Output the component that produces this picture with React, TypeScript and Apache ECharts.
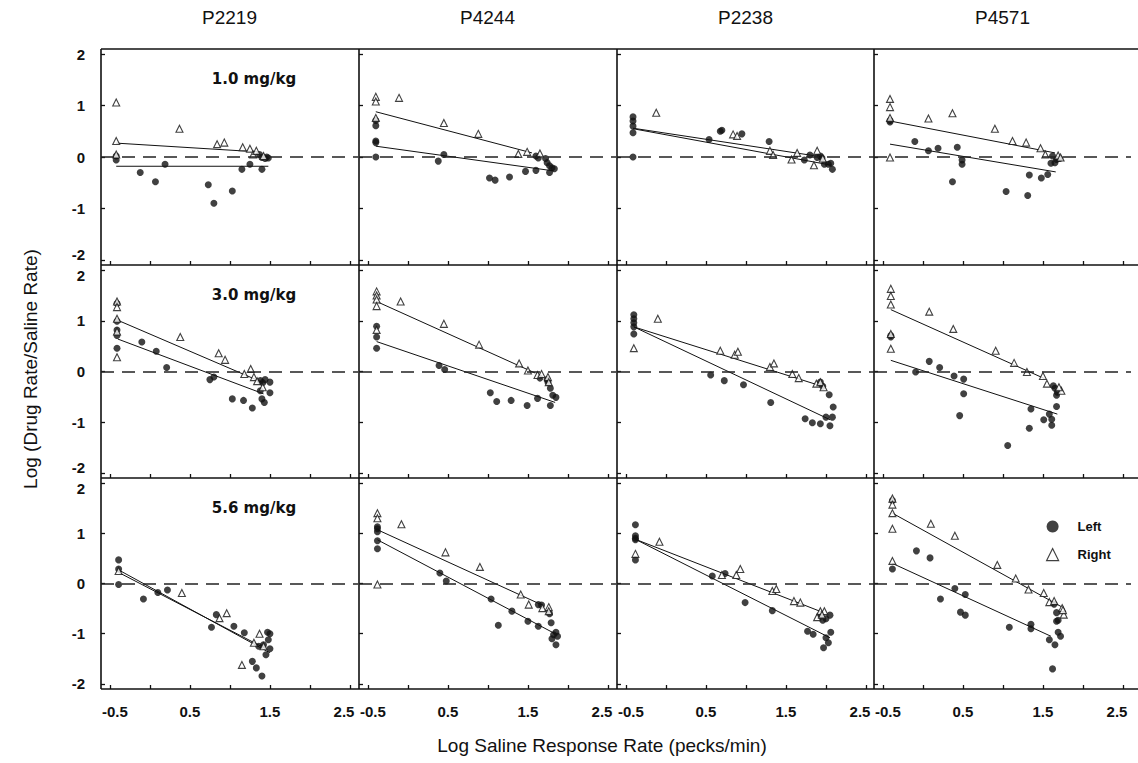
import React, { useEffect, useRef } from 'react';
import * as echarts from 'echarts';

type Pt = [number, number];

const subjects = ['P2219', 'P4244', 'P2238', 'P4571'];
const doses = ['1.0 mg/kg', '3.0 mg/kg', '5.6 mg/kg'];
const xTickValues = [-0.5, 0, 0.5, 1, 1.5, 2, 2.5];
const xLabelValues = [-0.5, 0.5, 1.5, 2.5];
const yTickValues = [-2, -1, 0, 1, 2];

// ---- 1.0 mg/kg ----
const P2219_10_left: Pt[] = [[-0.42,0.02],[-0.42,-0.06],[-0.12,-0.30],[0.07,-0.48],[0.19,-0.14],[0.73,-0.54],[0.80,-0.90],[1.03,-0.66],[1.15,-0.24],[1.25,-0.14],[1.37,0.05],[1.40,-0.24],[1.40,-0.01],[1.44,-0.03],[1.48,-0.02],[1.46,0.0]];
const P2219_10_right: Pt[] = [[-0.42,1.06],[-0.42,0.31],[-0.42,0.05],[0.37,0.55],[0.84,0.25],[0.93,0.28],[1.16,0.19],[1.25,0.16],[1.29,0.05],[1.33,0.12],[1.42,0.02]];
const P2219_10_leftFit: Pt[] = [[-0.42,-0.18],[1.48,-0.18]];
const P2219_10_rightFit: Pt[] = [[-0.42,0.27],[1.35,0.10]];

const P4244_10_left: Pt[] = [[-0.40,0.71],[-0.40,0.61],[-0.40,0.31],[-0.40,0.28],[-0.40,0.0],[0.38,-0.08],[0.45,0.05],[1.02,-0.41],[1.09,-0.45],[1.27,-0.39],[1.47,-0.28],[1.60,0.02],[1.63,-0.02],[1.60,-0.26],[1.72,-0.03],[1.74,-0.11],[1.77,-0.17],[1.80,-0.21],[1.83,-0.23],[1.77,-0.30]];
const P4244_10_right: Pt[] = [[-0.40,1.17],[-0.40,1.08],[-0.11,1.15],[-0.40,0.76],[0.45,0.66],[0.88,0.45],[1.38,0.06],[1.49,0.10],[1.65,0.07]];
const P4244_10_leftFit: Pt[] = [[-0.40,0.21],[1.82,-0.27]];
const P4244_10_rightFit: Pt[] = [[-0.40,0.88],[1.55,0.08]];

const P2238_10_left: Pt[] = [[-0.41,0.78],[-0.41,0.70],[-0.41,0.60],[-0.41,0.47],[-0.41,0.0],[0.54,0.34],[0.68,0.50],[0.70,0.52],[0.95,0.45],[1.29,0.30],[1.73,-0.06],[1.80,0.04],[1.89,-0.01],[1.93,0.02],[1.95,-0.02],[1.98,-0.14],[2.03,-0.14],[2.06,-0.12],[2.08,-0.24]];
const P2238_10_right: Pt[] = [[-0.12,0.86],[0.84,0.44],[0.89,0.41],[1.30,0.12],[1.34,0.04],[1.57,-0.05],[1.64,0.08],[1.85,-0.16],[1.89,0.12],[1.96,-0.03]];
const P2238_10_leftFit: Pt[] = [[-0.41,0.55],[2.07,-0.16]];
const P2238_10_rightFit: Pt[] = [[-0.41,0.56],[1.96,0.0]];

const P4571_10_left: Pt[] = [[-0.41,0.71],[-0.41,0.68],[-0.10,0.30],[0.07,0.12],[0.19,0.17],[0.43,0.19],[0.49,-0.06],[0.49,-0.14],[0.37,-0.48],[1.04,-0.67],[1.31,-0.75],[1.33,-0.35],[1.48,-0.41],[1.56,-0.34],[1.60,-0.12],[1.62,0.02],[1.65,-0.11],[1.67,-0.05],[1.71,-0.03]];
const P4571_10_right: Pt[] = [[-0.41,1.13],[-0.41,0.97],[-0.41,0.76],[-0.41,-0.01],[0.07,0.75],[0.37,0.85],[0.90,0.55],[1.12,0.31],[1.29,0.28],[1.47,0.17],[1.53,0.05],[1.69,0.03],[1.72,-0.01]];
const P4571_10_leftFit: Pt[] = [[-0.41,0.25],[1.66,-0.29]];
const P4571_10_rightFit: Pt[] = [[-0.41,0.70],[1.65,0.08]];

// ---- 3.0 mg/kg ----
const P2219_30_left: Pt[] = [[-0.41,1.34],[-0.41,0.99],[-0.41,0.82],[-0.41,0.71],[-0.41,0.46],[-0.10,0.58],[0.08,0.40],[0.21,0.08],[0.75,-0.16],[0.80,-0.11],[1.03,-0.54],[1.17,-0.57],[1.28,-0.72],[1.38,-0.18],[1.41,-0.22],[1.44,-0.16],[1.50,-0.21],[1.50,-0.42],[1.40,-0.54],[1.43,-0.61],[1.38,-0.38]];
const P2219_30_right: Pt[] = [[-0.41,1.38],[-0.41,1.27],[-0.41,1.04],[-0.41,0.79],[-0.41,0.28],[0.38,0.68],[0.86,0.36],[0.94,0.23],[1.26,0.05],[1.18,-0.05],[1.30,-0.11],[1.34,-0.19],[1.41,-0.31]];
const P2219_30_leftFit: Pt[] = [[-0.40,0.64],[1.42,-0.44]];
const P2219_30_rightFit: Pt[] = [[-0.40,1.01],[1.40,-0.21]];

const P4244_30_left: Pt[] = [[-0.39,0.89],[-0.39,0.68],[-0.39,0.46],[0.39,0.12],[0.46,0.04],[1.03,-0.42],[1.11,-0.59],[1.29,-0.57],[1.49,-0.67],[1.62,-0.53],[1.65,-0.13],[1.74,-0.16],[1.75,-0.21],[1.78,-0.33],[1.81,-0.47],[1.85,-0.51],[1.78,-0.67]];
const P4244_30_right: Pt[] = [[-0.39,1.58],[-0.39,1.50],[-0.39,1.42],[-0.39,1.29],[-0.39,0.82],[-0.09,1.38],[0.45,0.94],[0.89,0.53],[1.39,0.16],[1.50,0.02],[1.62,-0.07],[1.67,-0.05],[1.75,-0.11],[1.76,-0.21]];
const P4244_30_leftFit: Pt[] = [[-0.39,0.59],[1.84,-0.61]];
const P4244_30_rightFit: Pt[] = [[-0.39,1.38],[1.59,-0.03]];

const P2238_30_left: Pt[] = [[-0.40,1.12],[-0.40,1.04],[-0.40,0.96],[-0.40,0.88],[-0.40,0.74],[0.56,-0.07],[0.73,-0.18],[0.97,-0.26],[1.31,-0.61],[1.74,-0.93],[1.83,-1.01],[1.93,-1.03],[2.05,-1.07],[2.00,-0.90],[2.08,-0.90],[2.09,-0.70],[2.04,-0.46],[1.93,-0.21],[1.96,-0.29]];
const P2238_30_right: Pt[] = [[-0.40,0.46],[-0.10,1.04],[0.68,0.41],[0.86,0.33],[0.90,0.39],[1.30,0.09],[1.35,0.16],[1.58,-0.05],[1.66,-0.13],[1.88,-0.24],[1.93,-0.21],[1.97,-0.31]];
const P2238_30_leftFit: Pt[] = [[-0.40,0.88],[2.05,-0.95]];
const P2238_30_rightFit: Pt[] = [[-0.40,0.88],[1.99,-0.31]];

const P4571_30_left: Pt[] = [[-0.40,0.71],[-0.40,0.68],[-0.09,-0.01],[0.08,0.20],[0.21,0.08],[0.39,-0.09],[0.51,-0.15],[0.51,-0.44],[0.46,-0.87],[1.06,-1.46],[1.35,-0.74],[1.33,-1.12],[1.51,-0.95],[1.58,-0.84],[1.61,-0.94],[1.61,-1.06],[1.67,-0.69],[1.63,-0.28],[1.65,-0.33],[1.68,-0.41],[1.67,-0.47]];
const P4571_30_right: Pt[] = [[-0.40,1.63],[-0.40,1.49],[-0.40,1.32],[-0.40,0.74],[-0.40,0.45],[0.08,1.18],[0.38,0.84],[0.91,0.41],[1.14,0.17],[1.30,-0.01],[1.50,-0.09],[1.55,-0.24],[1.73,-0.38],[1.70,-0.31]];
const P4571_30_leftFit: Pt[] = [[-0.40,0.22],[1.68,-0.84]];
const P4571_30_rightFit: Pt[] = [[-0.40,1.22],[1.52,-0.14]];

// ---- 5.6 mg/kg ----
const P2219_56_left: Pt[] = [[-0.39,0.47],[-0.39,0.29],[-0.39,-0.02],[-0.08,-0.31],[0.10,-0.18],[0.22,-0.13],[0.83,-0.62],[0.77,-0.87],[1.05,-0.85],[1.18,-0.98],[1.47,-0.97],[1.50,-1.0],[1.28,-1.55],[1.33,-1.68],[1.40,-1.84],[1.42,-1.22],[1.48,-1.12],[1.50,-1.30],[1.45,-1.42],[1.36,-1.25]];
const P2219_56_right: Pt[] = [[-0.39,0.25],[0.40,-0.19],[0.87,-0.69],[0.96,-0.59],[1.37,-1.00],[1.15,-1.62],[1.30,-1.18],[1.42,-1.25]];
const P2219_56_leftFit: Pt[] = [[-0.39,0.27],[1.50,-1.38]];
const P2219_56_rightFit: Pt[] = [[-0.39,0.22],[1.45,-1.30]];

const P4244_56_left: Pt[] = [[-0.38,1.13],[-0.38,1.09],[-0.38,1.03],[-0.38,0.85],[-0.38,0.69],[0.40,0.21],[0.48,0.05],[1.04,-0.31],[1.30,-0.55],[1.50,-0.75],[1.13,-0.83],[1.63,-0.85],[1.63,-0.42],[1.67,-0.43],[1.77,-0.60],[1.79,-0.78],[1.85,-0.97],[1.82,-1.02],[1.87,-1.05],[1.85,-1.22],[1.80,-1.10]];
const P4244_56_right: Pt[] = [[-0.38,1.40],[-0.38,1.30],[-0.08,1.18],[-0.38,-0.02],[0.47,0.62],[0.90,0.33],[1.41,-0.22],[1.51,-0.42],[1.68,-0.49],[1.76,-0.47],[1.76,-0.55]];
const P4244_56_leftFit: Pt[] = [[-0.38,0.87],[1.84,-1.00]];
const P4244_56_rightFit: Pt[] = [[-0.38,1.07],[1.68,-0.43]];

const P2238_56_left: Pt[] = [[-0.38,1.17],[-0.38,0.95],[-0.38,0.90],[-0.38,0.87],[-0.38,0.47],[0.58,0.15],[0.74,0.20],[0.99,-0.38],[1.33,-0.54],[1.77,-0.95],[1.84,-1.01],[2.06,-0.97],[2.05,-0.63],[1.93,-0.65],[1.96,-0.73],[2.00,-0.70],[2.00,-1.08],[2.03,-1.18],[1.97,-1.28]];
const P2238_56_right: Pt[] = [[-0.38,0.59],[-0.08,0.83],[0.70,0.17],[0.88,0.17],[0.93,0.29],[1.33,-0.15],[1.38,-0.11],[1.60,-0.35],[1.68,-0.38],[1.89,-0.67],[1.93,-0.55],[1.98,-0.55],[1.95,-0.62]];
const P2238_56_leftFit: Pt[] = [[-0.38,0.88],[2.05,-1.08]];
const P2238_56_rightFit: Pt[] = [[-0.38,0.88],[1.97,-0.58]];

const P4571_56_left: Pt[] = [[-0.38,1.65],[-0.38,0.29],[-0.08,0.65],[0.09,0.51],[0.22,-0.31],[0.40,-0.10],[0.53,-0.22],[0.47,-0.57],[0.53,-0.63],[1.08,-0.87],[1.35,-0.81],[1.35,-0.90],[1.64,-0.41],[1.67,-0.58],[1.67,-0.75],[1.69,-0.73],[1.69,-0.97],[1.58,-1.12],[1.62,-1.70],[1.65,-1.22],[1.72,-1.05]];
const P4571_56_right: Pt[] = [[-0.38,1.69],[-0.38,1.57],[-0.38,1.40],[-0.38,1.09],[-0.38,0.45],[0.10,1.19],[0.40,0.95],[0.93,0.37],[1.16,0.10],[1.32,-0.12],[1.51,-0.19],[1.58,-0.37],[1.64,-0.35],[1.74,-0.49],[1.76,-0.62],[1.75,-0.53]];
const P4571_56_leftFit: Pt[] = [[-0.38,0.40],[1.60,-1.05]];
const P4571_56_rightFit: Pt[] = [[-0.38,1.40],[1.74,-0.47]];

interface Panel { left: Pt[]; right: Pt[]; leftFit: Pt[]; rightFit: Pt[] }

const panels: Panel[][] = [
  [
    { left: P2219_10_left, right: P2219_10_right, leftFit: P2219_10_leftFit, rightFit: P2219_10_rightFit },
    { left: P4244_10_left, right: P4244_10_right, leftFit: P4244_10_leftFit, rightFit: P4244_10_rightFit },
    { left: P2238_10_left, right: P2238_10_right, leftFit: P2238_10_leftFit, rightFit: P2238_10_rightFit },
    { left: P4571_10_left, right: P4571_10_right, leftFit: P4571_10_leftFit, rightFit: P4571_10_rightFit },
  ],
  [
    { left: P2219_30_left, right: P2219_30_right, leftFit: P2219_30_leftFit, rightFit: P2219_30_rightFit },
    { left: P4244_30_left, right: P4244_30_right, leftFit: P4244_30_leftFit, rightFit: P4244_30_rightFit },
    { left: P2238_30_left, right: P2238_30_right, leftFit: P2238_30_leftFit, rightFit: P2238_30_rightFit },
    { left: P4571_30_left, right: P4571_30_right, leftFit: P4571_30_leftFit, rightFit: P4571_30_rightFit },
  ],
  [
    { left: P2219_56_left, right: P2219_56_right, leftFit: P2219_56_leftFit, rightFit: P2219_56_rightFit },
    { left: P4244_56_left, right: P4244_56_right, leftFit: P4244_56_leftFit, rightFit: P4244_56_rightFit },
    { left: P2238_56_left, right: P2238_56_right, leftFit: P2238_56_leftFit, rightFit: P2238_56_rightFit },
    { left: P4571_56_left, right: P4571_56_right, leftFit: P4571_56_leftFit, rightFit: P4571_56_rightFit },
  ],
];

const FONT = '"Liberation Sans", Arial, Helvetica, sans-serif';
const INK = '#111';

const colLeft = [101, 359, 617, 874];
const colW = 257;
const rowTop = [49, 265, 478];
const rowH = [216, 213, 211];
const frameRight = 1138;

function yLabelFormatter(r: number) {
  return (v: number) => {
    const s = String(v);
    if (v === -2 && r < 2) return '{up|' + s + '}';
    if (v === 2 && r > 0) return '{down|' + s + '}';
    return '{n|' + s + '}';
  };
}

function xLabelFormatter(v: number) {
  const s = String(v);
  if (v === 2.5) return '{l|' + s + '}';
  if (v === -0.5) return '{r|' + s + '}';
  return '{n|' + s + '}';
}

function buildOption() {
  const grid: any[] = [];
  const xAxis: any[] = [];
  const yAxis: any[] = [];
  const series: any[] = [];
  const graphic: any[] = [];

  const labelText = { fontSize: 15, fontWeight: 'bold', color: INK, fontFamily: FONT };

  panels.forEach((row, r) => {
    row.forEach((p, c) => {
      const i = r * 4 + c;
      grid.push({ left: colLeft[c], top: rowTop[r], width: colW, height: rowH[r], show: false, containLabel: false });
      xAxis.push({
        gridIndex: i, type: 'value', min: -0.61, max: 2.6, position: 'bottom',
        axisLine: { show: false, onZero: false }, splitLine: { show: false },
        axisTick: { show: true, inside: true, length: 4, customValues: xTickValues, lineStyle: { color: INK, width: 1.3 } },
        axisLabel: {
          show: r === 2, customValues: xLabelValues, margin: 15, ...labelText,
          formatter: xLabelFormatter,
          rich: {
            n: { ...labelText },
            l: { ...labelText, padding: [0, 12, 0, 0] },
            r: { ...labelText, padding: [0, 0, 0, 10] },
          },
        },
      });
      yAxis.push({
        gridIndex: i, type: 'value', min: -2.1, max: 2.1, position: 'left',
        axisLine: { show: false, onZero: false }, splitLine: { show: false },
        axisTick: { show: true, inside: true, length: 4, customValues: yTickValues, lineStyle: { color: INK, width: 1.3 } },
        axisLabel: {
          show: c === 0, customValues: yTickValues, margin: 16, ...labelText,
          formatter: yLabelFormatter(r),
          rich: {
            n: { ...labelText },
            up: { ...labelText, padding: [0, 0, 10, 0] },
            down: { ...labelText, padding: [10, 0, 0, 0] },
          },
        },
      });
      series.push({
        type: 'line', name: 'Left fit', xAxisIndex: i, yAxisIndex: i, data: p.leftFit,
        symbol: 'none', lineStyle: { color: INK, width: 1 }, z: 2, silent: true,
        markLine: {
          silent: true, symbol: ['none', 'none'], label: { show: false },
          lineStyle: { color: '#222', width: 1.5, type: [13, 8] },
          data: [{ yAxis: 0 }],
        },
      });
      series.push({
        type: 'line', name: 'Right fit', xAxisIndex: i, yAxisIndex: i, data: p.rightFit,
        symbol: 'none', lineStyle: { color: INK, width: 1 }, z: 2, silent: true,
      });
      series.push({
        type: 'scatter', name: 'Left', xAxisIndex: i, yAxisIndex: i, data: p.left,
        symbol: 'circle', symbolSize: 7, itemStyle: { color: INK }, z: 3,
      });
      series.push({
        type: 'scatter', name: 'Right', xAxisIndex: i, yAxisIndex: i, data: p.right,
        symbol: 'triangle', symbolSize: 7, itemStyle: { color: '#fff', borderColor: INK, borderWidth: 1.1 }, z: 4,
      });
    });
  });

  // frame lines
  const bottom = rowTop[2] + rowH[2];
  [rowTop[0], rowTop[1], rowTop[2], bottom].forEach((y) => {
    graphic.push({ type: 'line', shape: { x1: colLeft[0], y1: y, x2: frameRight, y2: y }, style: { stroke: INK, lineWidth: 1.6 }, silent: true });
  });
  colLeft.forEach((x) => {
    graphic.push({ type: 'line', shape: { x1: x, y1: rowTop[0], x2: x, y2: bottom }, style: { stroke: INK, lineWidth: 1.6 }, silent: true });
  });

  subjects.forEach((s, c) => {
    graphic.push({
      type: 'text', x: colLeft[c] + colW / 2, y: 17,
      style: { text: s, fontSize: 19, fontFamily: FONT, fill: INK, textAlign: 'center', textVerticalAlign: 'middle' },
    });
  });
  doses.forEach((d, r) => {
    graphic.push({
      type: 'text', x: 254, y: rowTop[r] + 30,
      style: { text: d, fontSize: 15, fontWeight: 'bold', fontFamily: '"DejaVu Sans", sans-serif', fill: INK, textAlign: 'center', textVerticalAlign: 'middle' },
    });
  });
  graphic.push({
    type: 'text', x: 30, y: (rowTop[0] + bottom) / 2, rotation: Math.PI / 2,
    style: { text: 'Log (Drug Rate/Saline Rate)', fontSize: 19, fontFamily: FONT, fill: INK, textAlign: 'center', textVerticalAlign: 'middle' },
  });
  graphic.push({
    type: 'text', x: 602, y: 745,
    style: { text: 'Log Saline Response Rate (pecks/min)', fontSize: 19, fontFamily: FONT, fill: INK, textAlign: 'center', textVerticalAlign: 'middle' },
  });

  return {
    animation: false,
    backgroundColor: '#fff',
    grid, xAxis, yAxis, series, graphic,
    legend: {
      orient: 'vertical', left: 1041, top: 515, itemGap: 15, itemWidth: 12, itemHeight: 12,
      selectedMode: false,
      textStyle: { fontSize: 13, fontWeight: 'bold', fontFamily: FONT, color: INK, padding: [0, 0, 0, 14] },
      data: [
        { name: 'Left', icon: 'circle', itemStyle: { color: INK } },
        { name: 'Right', icon: 'triangle', itemStyle: { color: '#fff', borderColor: INK, borderWidth: 1.2 } },
      ],
    },
  };
}

export default function App() {
  const ref = useRef<HTMLDivElement>(null);
  useEffect(() => {
    if (!ref.current) return;
    const chart = echarts.init(ref.current, undefined, { renderer: 'svg' });
    chart.setOption(buildOption() as any);
    return () => chart.dispose();
  }, []);
  return <div ref={ref} style={{ position: 'absolute', left: 0, top: 0, width: 1138, height: 763 }} />;
}
